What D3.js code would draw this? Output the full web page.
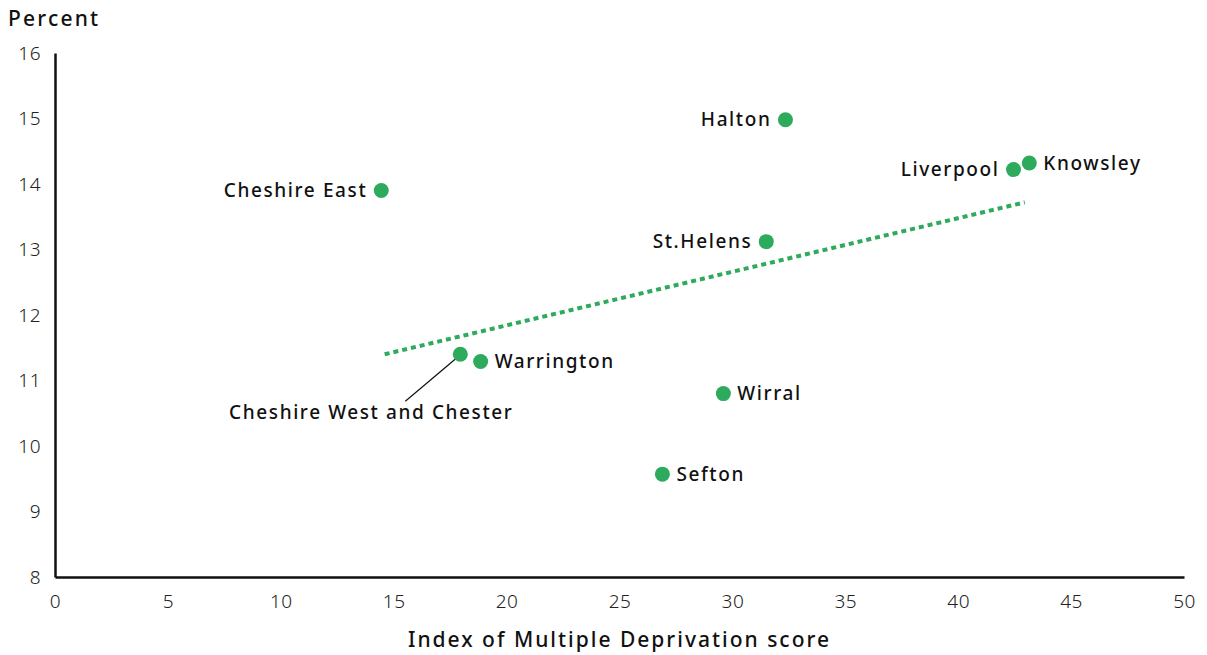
<!DOCTYPE html>
<html>
<head>
<meta charset="utf-8">
<script src="https://cdn.jsdelivr.net/npm/d3@7"></script>
<style>
  html, body { margin: 0; padding: 0; background: #fff; }
  svg { display: block; font-family: "Noto Sans", "Open Sans", sans-serif; }
</style>
</head>
<body>
<svg id="chart" width="1207" height="655"></svg>
<script>
// Local authorities, deprivation score vs percent
const areas = ["Cheshire East", "Halton", "Liverpool", "Knowsley", "St.Helens",
               "Cheshire West and Chester", "Warrington", "Wirral", "Sefton"];
const imdScore = [14.45, 32.35, 42.45, 43.15, 31.5, 17.95, 18.85, 29.6, 26.9];
const percent  = [13.9, 14.98, 14.22, 14.32, 13.12, 11.4, 11.29, 10.8, 9.57];
// Label placement per area: side of the point
const labelSide = ["left", "left", "left", "right", "left", "below", "right", "right", "right"];

// Linear trend endpoints
const trendX = [14.6, 42.95];
const trendY = [11.4, 13.72];

const xTicks = [0, 5, 10, 15, 20, 25, 30, 35, 40, 45, 50];
const yTicks = [8, 9, 10, 11, 12, 13, 14, 15, 16];

const svg = d3.select("#chart");
const green = "#2eaa5c";

const x = d3.scaleLinear().domain([0, 50]).range([55, 1184]);
const y = d3.scaleLinear().domain([8, 16]).range([577, 53]);

// Axes: lines with labels, no tick marks
const xAxis = svg.append("g").attr("transform", `translate(0,${y(8)})`)
  .call(d3.axisBottom(x).tickValues(xTicks).tickSize(0).tickPadding(14));
const yAxis = svg.append("g").attr("transform", `translate(${x(0)},0)`)
  .call(d3.axisLeft(y).tickValues(yTicks).tickSize(0).tickPadding(14));
[xAxis, yAxis].forEach(g => {
  g.select(".domain").attr("stroke", "#111").attr("stroke-width", 2.5);
  g.selectAll("text").attr("font-size", 19).attr("fill", "#222")
    .attr("font-family", "'Noto Sans', sans-serif").attr("font-weight", 300)
    .attr("letter-spacing", 0.5);
});
xAxis.selectAll("text").attr("dy", "0.9em");

// Axis titles
svg.append("text").attr("x", 8).attr("y", 26)
  .attr("font-size", 21).attr("font-weight", 500).attr("fill", "#111")
  .attr("letter-spacing", 2.2)
  .text("Percent");
svg.append("text").attr("x", x(25)).attr("y", 647).attr("text-anchor", "middle")
  .attr("font-size", 21).attr("font-weight", 500).attr("fill", "#111")
  .attr("letter-spacing", 2)
  .text("Index of Multiple Deprivation score");

// Trend line
svg.append("line")
  .attr("x1", x(trendX[0])).attr("y1", y(trendY[0]))
  .attr("x2", x(trendX[1])).attr("y2", y(trendY[1]))
  .attr("stroke", green).attr("stroke-width", 4).attr("stroke-dasharray", "5 4");

const data = areas.map((name, i) => ({ name, x: imdScore[i], y: percent[i], side: labelSide[i] }));

// Leader line for the label placed below
data.filter(d => d.side === "below").forEach(d => {
  svg.append("line")
    .attr("x1", x(d.x) - 4).attr("y1", y(d.y) + 4)
    .attr("x2", x(d.x) - 55).attr("y2", y(d.y) + 47)
    .attr("stroke", "#111").attr("stroke-width", 1.2);
});

svg.append("g").selectAll("circle").data(data).join("circle")
  .attr("cx", d => x(d.x)).attr("cy", d => y(d.y)).attr("r", 7.5)
  .attr("fill", green);

svg.append("g").selectAll("text").data(data).join("text")
  .attr("x", d => d.side === "left" ? x(d.x) - 14 : d.side === "right" ? x(d.x) + 14 : x(d.x) - 89)
  .attr("y", d => d.side === "below" ? y(d.y) + 65 : y(d.y))
  .attr("dy", d => d.side === "below" ? 0 : "0.35em")
  .attr("text-anchor", d => d.side === "left" ? "end" : d.side === "right" ? "start" : "middle")
  .attr("font-size", 19).attr("font-weight", 500).attr("fill", "#111")
  .attr("letter-spacing", 1.6)
  .text(d => d.name);
</script>
</body>
</html>
